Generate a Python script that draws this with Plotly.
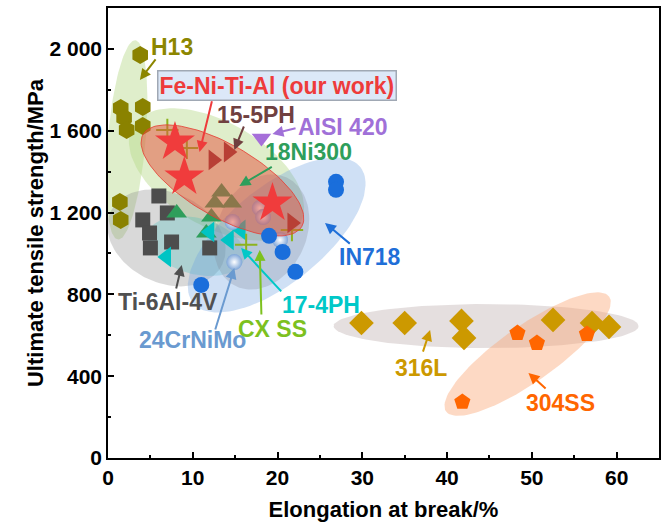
import numpy as np
import plotly.graph_objects as go

# ---- data: elongation at break (%) and ultimate tensile strength (MPa) ----
h13_x = [3.8, 1.5, 1.9, 2.2, 4.1, 4.1, 1.4, 1.5]
h13_y = [1970, 1711, 1663, 1604, 1716, 1623, 1252, 1164]

feniti_x = [7.9, 9.0, 19.4]
feniti_y = [1545, 1374, 1247]

ph155_x = [12.4, 14.2, 21.7]
ph155_y = [1457, 1496, 1149]

aisi420_x = [18.1]
aisi420_y = [1565]

ni300_x = [13.4, 12.6, 14.6, 8.1, 12.2, 11.6]
ni300_y = [1301, 1247, 1247, 1198, 1178, 1100]

ph174_x = [6.9, 12.0, 14.3, 15.7]
ph174_y = [983, 1105, 1066, 1115]

ti64_x = [6.0, 4.1, 4.9, 7.0, 7.5, 5.0, 12.0]
ti64_y = [1281, 1164, 1100, 1198, 1056, 1027, 1027]

crnimo_x = [14.7, 17.9, 18.3, 14.9, 20.3]
crnimo_y = [1154, 1222, 1178, 958, 1066]

in718_x = [26.9, 26.9, 19.0, 20.6, 22.1, 11.0]
in718_y = [1350, 1311, 1086, 1007, 910, 846]

cxss_x = [7.0, 9.3, 16.3, 21.7]
cxss_y = [1604, 1516, 1042, 1115]

l316_x = [29.9, 35.0, 41.7, 42.0, 52.5, 57.1, 59.1]
l316_y = [660, 660, 670, 587, 675, 660, 641]

ss304_x = [48.3, 50.6, 56.5, 41.8]
ss304_y = [611, 562, 606, 274]

x_ticks = [0, 10, 20, 30, 40, 50, 60]
y_ticks = [0, 400, 800, 1200, 1600, 2000]

# ---- layout geometry ----
W, H = 666, 530
M_L, M_R, M_T, M_B = 108, 5, 8, 72
X_RANGE = [0, 65]
Y_RANGE = [0, 2200]
PX_X = (W - M_L - M_R) / (X_RANGE[1] - X_RANGE[0])
PX_Y = (H - M_T - M_B) / (Y_RANGE[1] - Y_RANGE[0])

FONT = "Liberation Sans, Arial, sans-serif"

fig = go.Figure()


def ellipse(cx, cy, a_px, b_px, ang_deg, fill, line_color=None):
    """Rotated ellipse given in screen pixels around a data-space centre."""
    t = np.linspace(0, 2 * np.pi, 120)
    ang = np.deg2rad(ang_deg)
    ex = a_px * np.cos(t)
    ey = b_px * np.sin(t)
    rx = ex * np.cos(ang) - ey * np.sin(ang)
    ry = ex * np.sin(ang) + ey * np.cos(ang)
    fig.add_trace(go.Scatter(
        x=cx + rx / PX_X, y=cy + ry / PX_Y, mode="lines", fill="toself",
        fillcolor=fill,
        line=dict(color=line_color or "rgba(0,0,0,0)", width=1 if line_color else 0),
        hoverinfo="skip", showlegend=False))


def points(xs, ys, symbol, color, size, **extra):
    marker = dict(symbol=symbol, color=color, size=size, line=dict(width=0))
    marker.update(extra)
    fig.add_trace(go.Scatter(x=xs, y=ys, mode="markers", marker=marker,
                             showlegend=False, hoverinfo="x+y"))


# grouping regions behind the points
ellipse(2.2, 1555, 100, 19, 85, "rgba(185,218,140,0.45)")      # H13
ellipse(12.8, 1386, 97, 52, -30, "rgba(185,218,140,0.45)")     # 18Ni300
ellipse(6.9, 1076, 62, 45, -25, "rgba(140,140,140,0.33)")      # Ti-6Al-4V
ellipse(10.4, 1036, 50, 28, -15, "rgba(60,190,190,0.28)")      # 17-4PH
ellipse(19.9, 1090, 108, 48, 39, "rgba(110,160,225,0.33)")     # IN718
ellipse(18.1, 1105, 60, 45, 65, "rgba(130,135,150,0.28)")      # 24CrNiMo
ellipse(44.6, 645, 153, 22, 0, "rgba(160,140,140,0.28)")       # 316L
ellipse(49.5, 508, 100, 28, 35, "rgba(250,165,115,0.42)")      # 304SS

points(h13_x, h13_y, "hexagon", "#8A8200", 18)
points(ti64_x, ti64_y, "square", "#4D4D4D", 15)
points(ni300_x, ni300_y, "triangle-up", "#2E9E5B", 18)
points(ph174_x, ph174_y, "triangle-left", "#00C4C4", 18)
points(crnimo_x, crnimo_y, "circle", "#7FA6D8", 16,
       gradient=dict(type="radial", color="#FFFFFF"))
points(cxss_x, cxss_y, "cross-thin", "#7DBB1F", 16,
       line=dict(width=2, color="#8DB31F"))
points(ph155_x, ph155_y, "triangle-right", "#8A2E2E", 18)
points(aisi420_x, aisi420_y, "triangle-down", "#A66FD9", 17)

# Fe-Ni-Ti-Al region drawn over the neighbouring alloys
ellipse(13.5, 1357, 92, 36, -30, "rgba(230,80,60,0.5)", "rgba(230,60,50,0.8)")

points(feniti_x, feniti_y, "star", "#F03C3C", 30)
points(in718_x, in718_y, "circle", "#1A6EDB", 16)
points(l316_x, l316_y, "diamond", "#CC9900", 19)
points(ss304_x, ss304_y, "pentagon", "#FF6600", 17)

# ---- labels and pointer arrows ----
labels = [
    ("H13", 7.5, 2010, "#8C8600", (5.75, 1956), (3.76, 1848)),
    ("15-5PH", 17.5, 1677, "#704040", (16.1, 1628), (14.9, 1506)),
    ("AISI 420", 27.7, 1619, "#A070D8", (22.3, 1614), (19.4, 1584)),
    ("18Ni300", 23.7, 1496, "#2E9E5B", (19.5, 1428), (15.5, 1330)),
    ("IN718", 30.9, 983, "#1F6FD8", (28.7, 1042), (25.6, 1149)),
    ("Ti-6Al-4V", 7.1, 763, "#505050", (8.0, 821), (8.7, 944)),
    ("17-4PH", 25.1, 748, "#00C8C8", (20.6, 807), (15.7, 1027)),
    ("CX SS", 19.4, 631, "#7DC11F", (18.1, 694), (17.9, 1017)),
    ("24CrNiMo", 10.0, 577, "#6A9AD0", (12.6, 621), (14.9, 929)),
    ("316L", 36.9, 440, "#CC9900", (37.1, 513), (38.0, 626)),
    ("304SS", 53.4, 269, "#FF6600", (51.8, 333), (49.6, 416)),
    ("Fe-Ni-Ti-Al (our work)", 19.9, 1819, "#EE3B3B", (12.3, 1751), (10.8, 1496)),
]

annotations = []
for text, tx, ty, col, tail, head in labels:
    annotations.append(dict(
        x=head[0], y=head[1], ax=tail[0], ay=tail[1], axref="x", ayref="y",
        xref="x", yref="y", text="", showarrow=True, arrowhead=2,
        arrowsize=1.1, arrowwidth=2, arrowcolor=col))
    box = dict(bgcolor="#DCE8F8", bordercolor="#A0A8B4", borderwidth=1.5,
               borderpad=1) if "our work" in text else {}
    annotations.append(dict(
        x=tx, y=ty, xref="x", yref="y", text=f"<b>{text}</b>", showarrow=False,
        font=dict(family=FONT, size=23, color=col), **box))

axis_common = dict(
    showgrid=False, zeroline=False, showline=True, linecolor="black",
    linewidth=1.5, mirror=True, ticks="inside", ticklen=6, tickwidth=1.5,
    tickcolor="black",
    tickfont=dict(family=FONT, size=21, color="black"),
)

fig.update_layout(
    width=W, height=H,
    margin=dict(l=M_L, r=M_R, t=M_T, b=M_B),
    paper_bgcolor="white", plot_bgcolor="white",
    annotations=annotations,
    xaxis=dict(range=X_RANGE, tickvals=x_ticks, ticktext=[f"<b>{v}</b>" for v in x_ticks],
               minor=dict(dtick=5, ticks="inside", ticklen=3, tickwidth=1.5, tickcolor="black"),
               title=dict(text="<b>Elongation at break/%</b>", standoff=14,
                          font=dict(family=FONT, size=22, color="black")),
               **axis_common),
    yaxis=dict(range=Y_RANGE, tickvals=y_ticks,
               ticktext=[f"<b>{v:,}</b>".replace(",", " ") for v in y_ticks],
               minor=dict(dtick=200, ticks="inside", ticklen=3, tickwidth=1.5, tickcolor="black"),
               title=dict(text="<b>Ultimate tensile strength/MPa</b>", standoff=0,
                          font=dict(family=FONT, size=22, color="black")),
               **axis_common),
)

fig.write_html("out.html")
